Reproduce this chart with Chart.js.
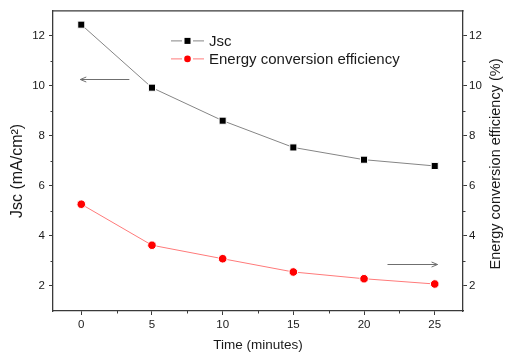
<!DOCTYPE html>
<html>
<head>
<meta charset="utf-8">
<script src="https://cdn.jsdelivr.net/npm/chart.js@4.4.1/dist/chart.umd.min.js"></script>
<style>
  html, body { margin: 0; padding: 0; background: #fff; }
  canvas { display: block; }
</style>
</head>
<body>
<canvas id="chart" width="505" height="353"></canvas>
<script>
// data
const times = [0, 5, 10, 15, 20, 25];
const jscValues = [12.45, 9.93, 8.61, 7.54, 7.05, 6.80];
const efficiencyValues = [5.27, 3.63, 3.09, 2.56, 2.29, 2.08];
const xTickValues = [0, 5, 10, 15, 20, 25];
const xMinorTicks = [2.5, 7.5, 12.5, 17.5, 22.5];
const yTickValues = [2, 4, 6, 8, 10, 12];
const yMinorTicks = [3, 5, 7, 9, 11];
const seriesNames = ["Jsc", "Energy conversion efficiency"];
const axisTitles = { x: "Time (minutes)", left: "Jsc (mA/cm²)", right: "Energy conversion efficiency (%)" };
// arrows pointing at the axis each series belongs to, in data units
const arrows = [
  { axis: "y", from: [3.4, 10.29], to: [-0.07, 10.29] },
  { axis: "y1", from: [21.66, 2.89], to: [25.2, 2.89] }
];

const axisColor = "#3a3a3a";
const textColor = "#1a1a1a";
const fontFamily = "'Liberation Sans', Arial, sans-serif";

const toPoints = (vals) => times.map((t, i) => ({ x: t, y: vals[i] }));

// minor ticks, top frame line, arrows, legend and y-axis titles
const decorPlugin = {
  id: "decor",
  afterDraw(chart) {
    const { ctx, chartArea: a, scales } = chart;
    ctx.save();
    ctx.strokeStyle = axisColor;
    ctx.lineWidth = 1.3;
    ctx.beginPath();
    ctx.moveTo(a.left - 0.6, a.top);
    ctx.lineTo(a.right + 0.6, a.top);
    ctx.stroke();

    ctx.lineWidth = 1;
    ctx.beginPath();
    xMinorTicks.forEach(v => {
      const px = Math.round(scales.x.getPixelForValue(v)) + 0.5;
      ctx.moveTo(px, a.bottom);
      ctx.lineTo(px, a.bottom + 2.5);
    });
    yMinorTicks.forEach(v => {
      const py = Math.round(scales.y.getPixelForValue(v)) + 0.5;
      ctx.moveTo(a.left, py);
      ctx.lineTo(a.left - 2.5, py);
      const py1 = Math.round(scales.y1.getPixelForValue(v)) + 0.5;
      ctx.moveTo(a.right, py1);
      ctx.lineTo(a.right + 2.5, py1);
    });
    ctx.stroke();

    // arrows
    ctx.strokeStyle = "#6f6f6f";
    ctx.lineWidth = 1;
    arrows.forEach(ar => {
      const ys = scales[ar.axis];
      const x1 = scales.x.getPixelForValue(ar.from[0]);
      const x2 = scales.x.getPixelForValue(ar.to[0]);
      const y = Math.round(ys.getPixelForValue(ar.to[1])) + 0.5;
      const dir = Math.sign(x2 - x1);
      ctx.beginPath();
      ctx.moveTo(x1, y);
      ctx.lineTo(x2, y);
      ctx.moveTo(x2 - dir * 6, y - 2.5);
      ctx.lineTo(x2, y);
      ctx.lineTo(x2 - dir * 6, y + 2.5);
      ctx.stroke();
    });

    // legend
    const legX = a.left + 118;
    const legY = a.top + 30;
    chart.data.datasets.forEach((ds, i) => {
      const y = legY + i * 18;
      ctx.strokeStyle = ds.borderColor;
      ctx.lineWidth = 1;
      ctx.beginPath();
      ctx.moveTo(legX, y);
      ctx.lineTo(legX + 11, y);
      ctx.moveTo(legX + 22, y);
      ctx.lineTo(legX + 33, y);
      ctx.stroke();
      ctx.fillStyle = ds.pointBackgroundColor;
      if (ds.pointStyle === "rect") {
        ctx.fillRect(legX + 13.5, y - 3, 6, 6);
      } else {
        ctx.beginPath();
        ctx.arc(legX + 16.5, y, 3.3, 0, Math.PI * 2);
        ctx.fill();
      }
      ctx.fillStyle = textColor;
      ctx.font = "15px " + fontFamily;
      ctx.textAlign = "left";
      ctx.textBaseline = "middle";
      ctx.fillText(ds.label, legX + 38, y + 0.5);
    });

    // y axis titles (both read bottom to top)
    ctx.fillStyle = textColor;
    ctx.textAlign = "center";
    ctx.textBaseline = "middle";
    ctx.save();
    ctx.translate(17.5, (a.top + a.bottom) / 2 + 10);
    ctx.rotate(-Math.PI / 2);
    ctx.font = "16px " + fontFamily;
    ctx.fillText(axisTitles.left, 0, 0);
    ctx.restore();
    ctx.save();
    ctx.translate(496, (a.top + a.bottom) / 2 + 3);
    ctx.rotate(-Math.PI / 2);
    ctx.font = "14.5px " + fontFamily;
    ctx.fillText(axisTitles.right, 0, 0);
    ctx.restore();
    ctx.restore();
  }
};

const tickFont = { family: fontFamily, size: 11.5 };
const yScale = (position, width, pad) => ({
  type: "linear",
  position: position,
  min: 1,
  max: 13,
  afterBuildTicks: s => { s.ticks = yTickValues.map(v => ({ value: v })); },
  afterFit: s => { s.width = width; },
  border: { display: true, color: axisColor, width: 1.3 },
  grid: { display: true, drawOnChartArea: false, drawTicks: true, tickLength: 4, tickColor: axisColor },
  ticks: { color: textColor, font: tickFont, padding: pad }
});

new Chart(document.getElementById("chart"), {
  type: "line",
  data: {
    datasets: [
      {
        label: seriesNames[0],
        data: toPoints(jscValues),
        yAxisID: "y",
        borderColor: "#858585",
        borderWidth: 1,
        tension: 0,
        pointStyle: "rect",
        pointRadius: 5,
        pointBackgroundColor: "#000",
        pointBorderColor: "#fff",
        pointBorderWidth: 1
      },
      {
        label: seriesNames[1],
        data: toPoints(efficiencyValues),
        yAxisID: "y1",
        borderColor: "#ff7a7a",
        borderWidth: 1,
        tension: 0,
        pointStyle: "circle",
        pointRadius: 4.3,
        pointBackgroundColor: "#ff0000",
        pointBorderColor: "#fff",
        pointBorderWidth: 1
      }
    ]
  },
  options: {
    responsive: false,
    animation: false,
    devicePixelRatio: 1,
    layout: { padding: { top: 9, left: 0, right: 0, bottom: 0 } },
    plugins: { legend: { display: false }, tooltip: { enabled: false } },
    scales: {
      x: {
        type: "linear",
        min: -2,
        max: 27,
        afterBuildTicks: s => { s.ticks = xTickValues.map(v => ({ value: v })); },
        afterFit: s => { s.height = 42; },
        border: { display: true, color: axisColor, width: 1.3 },
        grid: { display: true, drawOnChartArea: false, drawTicks: true, tickLength: 4, tickColor: axisColor },
        ticks: { color: textColor, font: tickFont, padding: 3, maxRotation: 0 },
        title: {
          display: true,
          text: axisTitles.x,
          color: textColor,
          font: { family: fontFamily, size: 13.5 },
          padding: { top: 0, bottom: 0 }
        }
      },
      y: yScale("left", 53, 4),
      y1: yScale("right", 42, 2)
    }
  },
  plugins: [decorPlugin]
});
</script>
</body>
</html>
